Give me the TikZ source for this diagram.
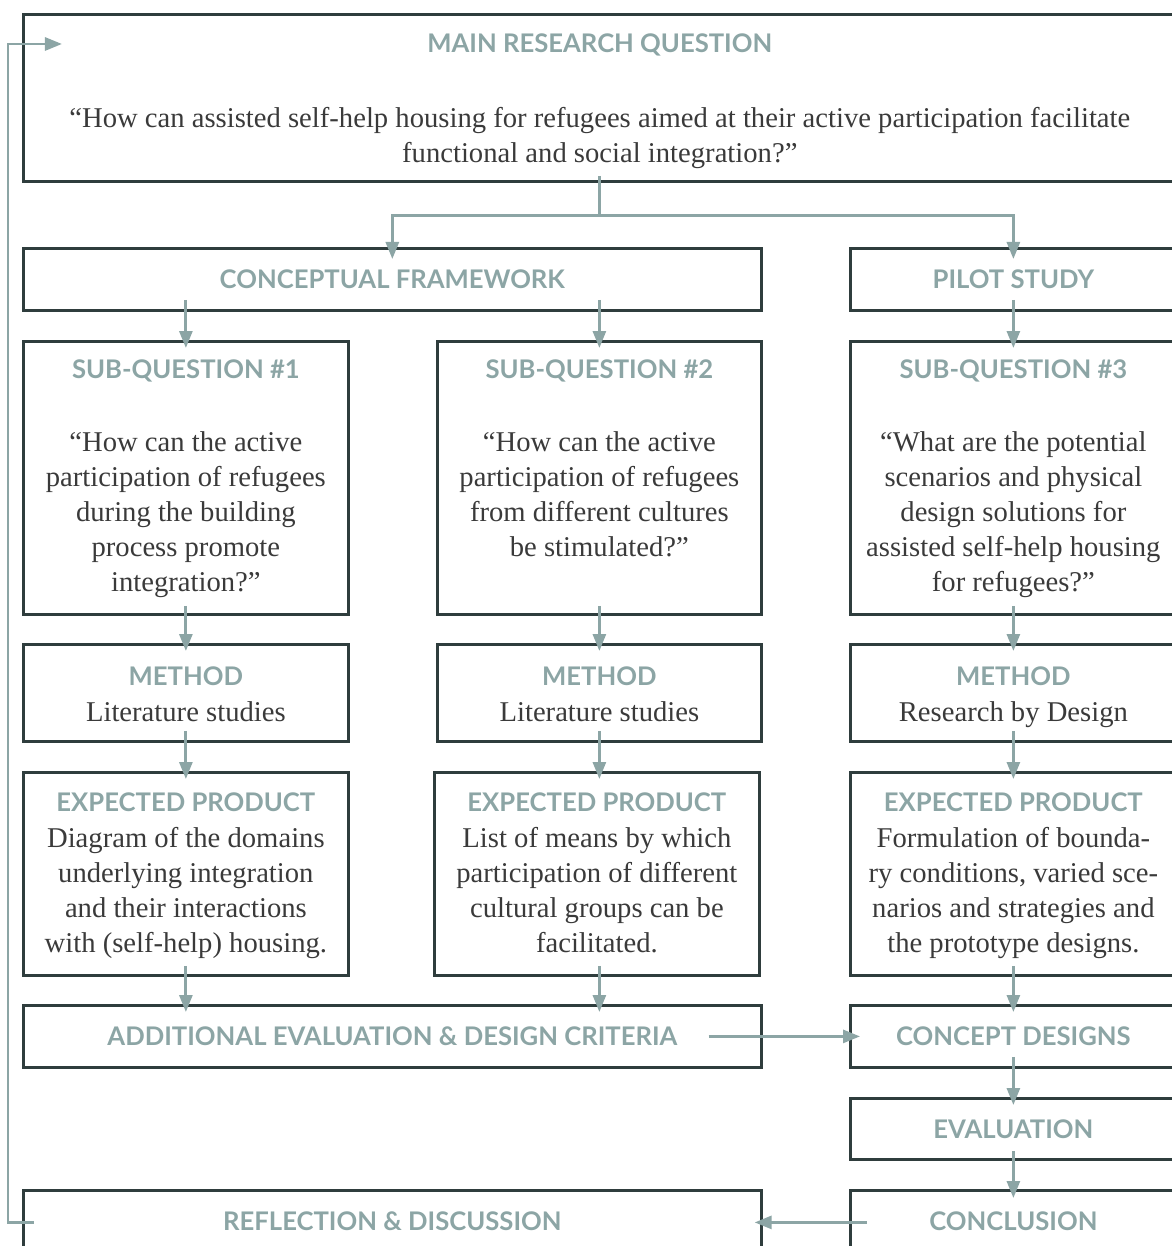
\documentclass[tikz,border=0pt]{standalone}
\usepackage{fontspec}
\setmainfont{Liberation Serif}
\newfontfamily\headfont{Lato}
\usepackage{tikz}
\usetikzlibrary{positioning, arrows.meta}
\definecolor{framegray}{HTML}{2F3D3D}
\definecolor{sagegray}{HTML}{8CA5A5}
\definecolor{inkgray}{HTML}{3A3A3A}

\tikzset{
  frame/.style={draw=framegray, line width=1.6pt, inner sep=0pt, anchor=north west},
  heading/.style={text=sagegray, inner sep=0pt, font=\headfont\bfseries\fontsize{14.6}{17}\selectfont},
  body/.style={text=inkgray, inner sep=0pt, align=center, anchor=north,
               font=\fontsize{16.3}{19.9}\selectfont},
  flow/.style={draw=sagegray, line width=1.6pt, -{Triangle[length=0.34cm, width=0.26cm]}},
}

\begin{document}
\begin{tikzpicture}[x=0.02cm, y=-0.02cm]
    \useasboundingbox (0,0) rectangle (1171,1246);

    % boxes
    \node[frame, minimum width=23.06cm, minimum height=3.34cm] (main) at (22,13) {};
    \node[frame, minimum width=14.76cm, minimum height=1.24cm] (cf) at (22,247) {};
    \node[frame, minimum width=6.52cm, minimum height=1.24cm] (pilot) at (849,247) {};
    \node[frame, minimum width=6.5cm, minimum height=5.46cm] (sq1) at (22,340) {};
    \node[frame, minimum width=6.48cm, minimum height=5.46cm] (sq2) at (436,340) {};
    \node[frame, minimum width=6.52cm, minimum height=5.46cm] (sq3) at (849,340) {};
    \node[frame, minimum width=6.5cm, minimum height=1.94cm] (m1) at (22,643) {};
    \node[frame, minimum width=6.48cm, minimum height=1.94cm] (m2) at (436,643) {};
    \node[frame, minimum width=6.52cm, minimum height=1.94cm] (m3) at (849,643) {};
    \node[frame, minimum width=6.5cm, minimum height=4.06cm] (p1) at (22,771) {};
    \node[frame, minimum width=6.5cm, minimum height=4.06cm] (p2) at (433,771) {};
    \node[frame, minimum width=6.52cm, minimum height=4.06cm] (p3) at (849,771) {};
    \node[frame, minimum width=14.76cm, minimum height=1.24cm] (add) at (22,1004) {};
    \node[frame, minimum width=6.52cm, minimum height=1.24cm] (concept) at (849,1004) {};
    \node[frame, minimum width=6.52cm, minimum height=1.22cm] (eval) at (849,1097) {};
    \node[frame, minimum width=6.52cm, minimum height=1.28cm] (concl) at (849,1189) {};
    \node[frame, minimum width=14.76cm, minimum height=1.28cm] (refl) at (22,1189) {};

    % headings
    \node[heading] (maintitle) at ([yshift=-0.64cm]main.north) {MAIN RESEARCH QUESTION};
    \node[heading] (cftitle) at (cf.center) {CONCEPTUAL FRAMEWORK};
    \node[heading] (pilottitle) at (pilot.center) {PILOT STUDY};
    \node[heading] (sq1title) at ([yshift=-0.62cm]sq1.north) {SUB-QUESTION \#1};
    \node[heading] (sq2title) at ([yshift=-0.62cm]sq2.north) {SUB-QUESTION \#2};
    \node[heading] (sq3title) at ([yshift=-0.62cm]sq3.north) {SUB-QUESTION \#3};
    \node[heading] (m1title) at ([yshift=-0.66cm]m1.north) {METHOD};
    \node[heading] (m2title) at ([yshift=-0.66cm]m2.north) {METHOD};
    \node[heading] (m3title) at ([yshift=-0.66cm]m3.north) {METHOD};
    \node[heading] (p1title) at ([yshift=-0.62cm]p1.north) {EXPECTED PRODUCT};
    \node[heading] (p2title) at ([yshift=-0.62cm]p2.north) {EXPECTED PRODUCT};
    \node[heading] (p3title) at ([yshift=-0.62cm]p3.north) {EXPECTED PRODUCT};
    \node[heading] (addtitle) at (add.center) {ADDITIONAL EVALUATION \& DESIGN CRITERIA};
    \node[heading] (concepttitle) at (concept.center) {CONCEPT DESIGNS};
    \node[heading] (evaltitle) at (eval.center) {EVALUATION};
    \node[heading] (concltitle) at ([yshift=-0.64cm]concl.north) {CONCLUSION};
    \node[heading] (refltitle) at ([yshift=-0.64cm]refl.north) {REFLECTION \& DISCUSSION};

    % texts
    \node[body] (maintext) at ([yshift=-1.88cm]main.north) {“How can assisted self-help housing for refugees aimed at their active participation facilitate\\functional and social integration?”};
    \node[body] (sq1text) at ([yshift=-1.82cm]sq1.north) {“How can the active\\participation of refugees\\during the building\\process promote\\integration?”};
    \node[body] (sq2text) at ([yshift=-1.82cm]sq2.north) {“How can the active\\participation of refugees\\from different cultures\\be stimulated?”};
    \node[body] (sq3text) at ([yshift=-1.82cm]sq3.north) {“What are the potential\\scenarios and physical\\design solutions for\\assisted self-help housing\\for refugees?”};
    \node[body] (m1text) at ([yshift=-1.16cm]m1.north) {Literature studies};
    \node[body] (m2text) at ([yshift=-1.16cm]m2.north) {Literature studies};
    \node[body] (m3text) at ([yshift=-1.16cm]m3.north) {Research by Design};
    \node[body] (p1text) at ([yshift=-1.12cm]p1.north) {Diagram of the domains\\underlying integration\\and their interactions\\with (self-help) housing.};
    \node[body] (p2text) at ([yshift=-1.12cm]p2.north) {List of means by which\\participation of different\\cultural groups can be\\facilitated.};
    \node[body] (p3text) at ([yshift=-1.12cm]p3.north) {Formulation of bounda-\\ry conditions, varied sce-\\narios and strategies and\\the prototype designs.};

    % connectors
    \coordinate (split) at ([yshift=-0.66cm]main.south);
    \draw[draw=sagegray, line width=1.6pt] ([yshift=0.14cm]main.south) -- (split);
    \draw[flow] (split) -| ([yshift=-0.24cm]cf.north);
    \draw[flow] (split) -| ([yshift=-0.24cm]pilot.north);
    \draw[flow] ([yshift=0.24cm]cf.south -| sq1.north) -- ([yshift=-0.16cm]sq1.north);
    \draw[flow] ([yshift=0.24cm]cf.south -| sq2.north) -- ([yshift=-0.16cm]sq2.north);
    \draw[flow] ([yshift=0.24cm]pilot.south) -- ([yshift=-0.16cm]sq3.north);
    \draw[flow] ([yshift=0.2cm]sq1.south) -- ([yshift=-0.16cm]m1.north);
    \draw[flow] ([yshift=0.2cm]sq2.south) -- ([yshift=-0.16cm]m2.north);
    \draw[flow] ([yshift=0.2cm]sq3.south) -- ([yshift=-0.16cm]m3.north);
    \draw[flow] ([yshift=0.24cm]m1.south) -- ([yshift=-0.16cm]p1.north);
    \draw[flow] ([yshift=0.24cm]m2.south) -- ([yshift=-0.16cm]m2.south |- p2.north);
    \draw[flow] ([yshift=0.24cm]m3.south) -- ([yshift=-0.16cm]p3.north);
    \draw[flow] ([yshift=0.22cm]p1.south) -- ([yshift=-0.16cm]p1.south |- add.north);
    \draw[flow] ([yshift=0.22cm]p2.south -| m2.south) -- ([yshift=-0.16cm]m2.south |- add.north);
    \draw[flow] ([yshift=0.22cm]p3.south) -- ([yshift=-0.16cm]concept.north);
    \draw[flow] ([yshift=0.24cm]concept.south) -- ([yshift=-0.16cm]eval.north);
    \draw[flow] ([yshift=0.2cm]eval.south) -- ([yshift=-0.18cm]concl.north);
    \draw[flow] ([xshift=-1.08cm]add.east) -- ([xshift=0.22cm]concept.west);
    \draw[flow] ([xshift=0.36cm]concl.west) -- ([xshift=-0.16cm]refl.east);
    \draw[flow] ([xshift=0.24cm]refl.west) -- ++(-26,0) |- ([shift={(0.8cm,-0.62cm)}]main.north west);
\end{tikzpicture}
\end{document}
